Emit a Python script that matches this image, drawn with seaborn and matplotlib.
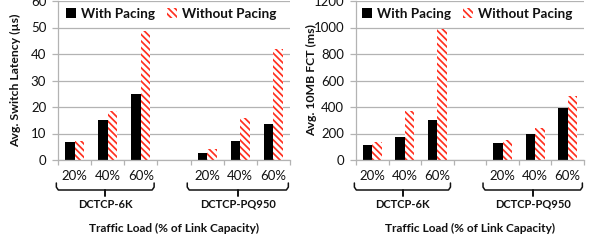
import numpy as np
import pandas as pd
import matplotlib
matplotlib.use("Agg")
import matplotlib.pyplot as plt
import seaborn as sns
from matplotlib.patches import Patch
from matplotlib.transforms import blended_transform_factory

# ---- data ----
slots = ["6K-20", "6K-40", "6K-60", "gap", "PQ-20", "PQ-40", "PQ-60"]
data_slots = ["6K-20", "6K-40", "6K-60", "PQ-20", "PQ-40", "PQ-60"]
tick_labels = ["20%", "40%", "60%", "", "20%", "40%", "60%"]
series = ["With Pacing", "Without Pacing"]
groups = ["DCTCP-6K", "DCTCP-PQ950"]

latency_with = [6.7, 15.0, 25.0, 2.8, 7.0, 13.7]
latency_without = [7.0, 18.5, 48.5, 4.2, 15.7, 41.8]
fct_with = [110, 170, 305, 125, 200, 390]
fct_without = [135, 370, 990, 150, 245, 485]

ylabels = ["Avg. Switch Latency (\u00b5s)", "Avg. 10MB FCT (ms)"]
xlabel = "Traffic Load (% of Link Capacity)"

sns.set_theme(style="white")
plt.rcParams['font.family'] = ['Lato', 'DejaVu Sans']
plt.rcParams['hatch.linewidth'] = 1.25

RED = "#ff3020"
TXT = "#111111"
GRID = "#b3b3b3"
HATCH = "\\" * 5


def make_df(w, wo):
    rows = []
    for s, a, b in zip(data_slots, w, wo):
        rows.append((s, series[0], a))
        rows.append((s, series[1], b))
    return pd.DataFrame(rows, columns=["slot", "series", "value"])


fig = plt.figure(figsize=(5.92, 2.41), dpi=100)
ax1 = fig.add_axes([58 / 592, 1 - 160 / 241, 232 / 592, 159 / 241])
ax2 = fig.add_axes([356 / 592, 1 - 160 / 241, 228 / 592, 159 / 241])

panels = [
    (ax1, make_df(latency_with, latency_without), 60, 10, ylabels[0], -0.16),
    (ax2, make_df(fct_with, fct_without), 1200, 200, ylabels[1], -0.171),
]

for ax, df, ymax, step, ylab, ylx in panels:
    sns.barplot(data=df, x="slot", y="value", hue="series", order=slots,
                hue_order=series, palette=["black", "white"], width=0.58,
                gap=0, saturation=1, ax=ax, legend=False, errorbar=None)
    for p in ax.containers[0]:
        p.set_facecolor("black")
        p.set_edgecolor("black")
        p.set_linewidth(0)
    for p in ax.containers[1]:
        p.set_facecolor("white")
        p.set_edgecolor(RED)
        p.set_hatch(HATCH)
        p.set_linewidth(0)

    ax.set_xlim(-0.5, 6.5)
    ax.set_ylim(0, ymax)
    ax.set_yticks(np.arange(0, ymax + 1, step))
    ax.yaxis.grid(True, color=GRID, linewidth=0.9)
    ax.set_axisbelow(True)
    for side in ["top", "right"]:
        ax.spines[side].set_visible(False)
    for side in ["left", "bottom"]:
        ax.spines[side].set_color(GRID)
        ax.spines[side].set_linewidth(0.9)

    ax.set_xticks(range(len(slots)))
    ax.set_xticklabels(tick_labels)
    ax.set_xticks(np.arange(-0.5, 7.0, 1.0), minor=True)
    ax.tick_params(axis="x", which="major", length=0, pad=7.5,
                   labelsize=9.5, labelcolor=TXT)
    ax.tick_params(axis="x", which="minor", length=3.8, width=0.9,
                   color=GRID, direction="out", bottom=True)
    ax.tick_params(axis="y", length=4, width=0.9, color=GRID,
                   direction="out", left=True, labelsize=9.5,
                   labelcolor=TXT, pad=4.5)
    ax.set_xlabel("")
    ax.set_ylabel(ylab, fontsize=8.8, fontweight="bold", color=TXT)
    ax.yaxis.set_label_coords(ylx, 0.5)

    handles = [Patch(facecolor="black", edgecolor="black", linewidth=0),
               Patch(facecolor="white", edgecolor=RED, hatch=HATCH, linewidth=0)]
    leg = ax.legend(handles, series, loc="upper center", ncol=2,
                    bbox_to_anchor=(0.487, 1.02), frameon=True, fancybox=False,
                    framealpha=1, edgecolor="white", handlelength=0.75,
                    handleheight=0.75, handletextpad=0.35, columnspacing=0.9,
                    borderpad=0.25,
                    prop={"weight": "bold", "size": 9.7})
    for t in leg.get_texts():
        t.set_color(TXT)

    # braces
    tr = blended_transform_factory(ax.transData, fig.transFigure)
    y_top = 1 - 183 / 241
    y_mid = 1 - 190 / 241
    y_bot = 1 - 196 / 241
    for (x0, x1, xc), g in zip([(-0.55, 2.4, 0.93), (3.4, 6.45, 4.93)], groups):
        r = 0.06
        ax.plot([x0, x0, x0 + r, x1 - r, x1, x1],
                [y_top, y_mid + 0.012, y_mid, y_mid, y_mid + 0.012, y_top],
                transform=tr, color=TXT, linewidth=1.1, clip_on=False,
                solid_joinstyle="round")
        ax.plot([xc, xc], [y_mid, y_bot], transform=tr, color=TXT,
                linewidth=1.4, clip_on=False)
        ax.text(xc, 1 - 204 / 241, g, transform=tr, ha="center", va="center",
                fontsize=8, fontweight="bold", color=TXT)

    fig.text((ax.get_position().x0 + ax.get_position().x1) / 2, 1 - 228 / 241,
             xlabel, ha="center", va="center", fontsize=8.6,
             fontweight="bold", color=TXT)

fig.savefig("out.png", dpi=100)
